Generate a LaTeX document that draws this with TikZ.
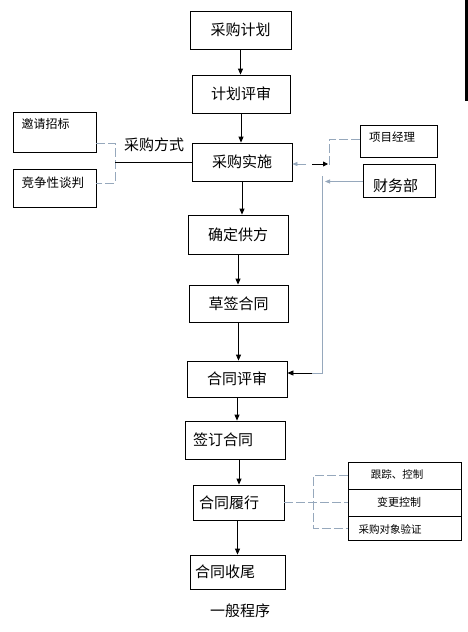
\documentclass[tikz,border=0pt]{standalone}
\usepackage{fontspec}
\setmainfont{Noto Sans CJK SC}
\usetikzlibrary{arrows.meta}
\definecolor{gline}{RGB}{150,168,188}
\tikzset{
  box/.style={draw=black, line width=0.8pt, inner sep=0pt, font=\fontsize{15}{15}\selectfont},
  arr/.style={draw=black, line width=0.8pt, -{Triangle[length=6pt,width=5pt]}},
  garr/.style={draw=gline, line width=0.8pt, -{Triangle[length=5pt,width=4pt]}},
  gdash/.style={draw=gline, line width=0.9pt, dash pattern=on 9pt off 3pt},
  gsolid/.style={draw=gline, line width=0.8pt},
  small/.style={font=\fontsize{10.5}{11}\selectfont}
}
\begin{document}
\begin{tikzpicture}[x=1pt,y=-1pt]
\useasboundingbox (0,0) rectangle (468,632);
\fill[white] (0,0) rectangle (468,632);
\fill[black] (465,0) rectangle (468,101);

% main column
\node[box, minimum width=101, minimum height=38] (p1) at (240.5,30) {采购计划};
\node[box, minimum width=98, minimum height=38] (p2) at (241,94) {计划评审};
\node[box, minimum width=100, minimum height=38] (p3) at (242,162) {采购实施};
\node[box, minimum width=100, minimum height=39] (p4) at (238,234.5) {确定供方};
\node[box, minimum width=99, minimum height=37] (p5) at (238.5,303.5) {草签合同};
\node[box, minimum width=100, minimum height=36] (p6) at (237,379) {合同评审};
\node[box, minimum width=100, minimum height=38, text width=84, inner xsep=8, align=left] (p7) at (235,440) {签订合同};
\node[box, minimum width=91, minimum height=35, text width=79, inner xsep=6, align=left] (p8) at (238.5,502.5) {合同履行};
\node[box, minimum width=95, minimum height=34, text width=85, inner xsep=5, align=left] (p9) at (237.5,572) {合同收尾};
\node[font=\fontsize{15}{15}\selectfont] (title) at (240,611) {一般程序};

\draw[arr] (p1.south) -- (p1.south |- p2.north);
\draw[arr] (p2.south) -- (p2.south |- p3.north);
\draw[arr] (p3.south) -- (p3.south |- p4.north);
\draw[arr] (p4.south) -- (p4.south |- p5.north);
\draw[arr] (p5.south) -- (p5.south |- p6.north);
\draw[arr] (p6.south) -- (p6.south |- p7.north);
\draw[arr] (p7.south) ++(4,0) coordinate (a7) -- (a7 |- p8.north);
\draw[arr] (p8.south) ++(-1,0) coordinate (a8) -- (a8 |- p9.north);

% left side
\node[draw=black, line width=0.8pt, minimum width=83, minimum height=40, inner sep=0pt] (l1) at (54.5,132) {};
\node[font=\fontsize{12}{12}\selectfont, anchor=west] (l1t) at (18,124) {邀请招标};
\node[draw=black, line width=0.8pt, minimum width=83, minimum height=38, inner sep=0pt] (l2) at (54.5,188) {};
\node[font=\fontsize{12.5}{12.5}\selectfont, anchor=west] (l2t) at (18,183) {竞争性谈判};
\node[font=\fontsize{15}{15}\selectfont] (fs) at (154,145) {采购方式};
\coordinate (b1) at (96,143);
\coordinate (b2) at (96,183);
\coordinate (bk) at (115,162);
\draw[gdash] (b1) -- (b1 -| bk) -- (b2 -| bk) -- (b2);
\draw[black, line width=0.8pt] (bk) -- (p3.west);

% right side top
\node[draw=black, line width=0.8pt, minimum width=77, minimum height=32, inner sep=0pt] (r1) at (398.5,141) {};
\node[font=\fontsize{11.5}{11.5}\selectfont] (r1t) at (392,137) {项目经理};
\node[draw=black, line width=0.8pt, minimum width=72, minimum height=33, inner sep=0pt] (r2) at (399,180.5) {};
\node[font=\fontsize{15}{15}\selectfont] (r2t) at (395.5,186) {财务部};

\coordinate (j1) at (329,166);
\coordinate (r1p) at (360,139);
\draw[gdash] (r1p) -| (j1);
\coordinate (ba) at (312,164);
\coordinate (bb) at (328,164);
\draw[arr, -{Triangle[length=5pt,width=5pt]}] (ba) -- (bb);
\coordinate (ga) at (306,164);
\draw[garr] (ga) -- (ga -| p3.east);
\coordinate (fa) at (325,181.5);
\draw[garr] (r2.west |- fa) -- (fa);
\coordinate (v1) at (322,176);
\coordinate (v2) at (322,373);
\draw[gsolid] (v1) -- (v2) -- ++(-10,0) coordinate (v3);
\draw[arr] (v3) -- (v3 -| p6.east);

% right side bottom
\node[draw=black, line width=0.8pt, minimum width=113, minimum height=27, inner sep=0pt] (s1) at (404.5,475.5) {};
\node[small] (s1t) at (397,474) {跟踪、控制};
\node[draw=black, line width=0.8pt, minimum width=113, minimum height=27, inner sep=0pt] (s2) at (404.5,502.5) {};
\node[font=\fontsize{11}{11}\selectfont] (s2t) at (399,502) {变更控制};
\node[draw=black, line width=0.8pt, minimum width=113, minimum height=24, inner sep=0pt] (s3) at (404.5,528) {};
\node[small] (s3t) at (390,529) {采购对象验证};

\coordinate (bz) at (313,528);
\draw[gdash] (p8.east) -- (p8.east -| s2.west);
\draw[gdash] (s1.west) -| (bz) -- (s3.west);
\end{tikzpicture}
\end{document}
